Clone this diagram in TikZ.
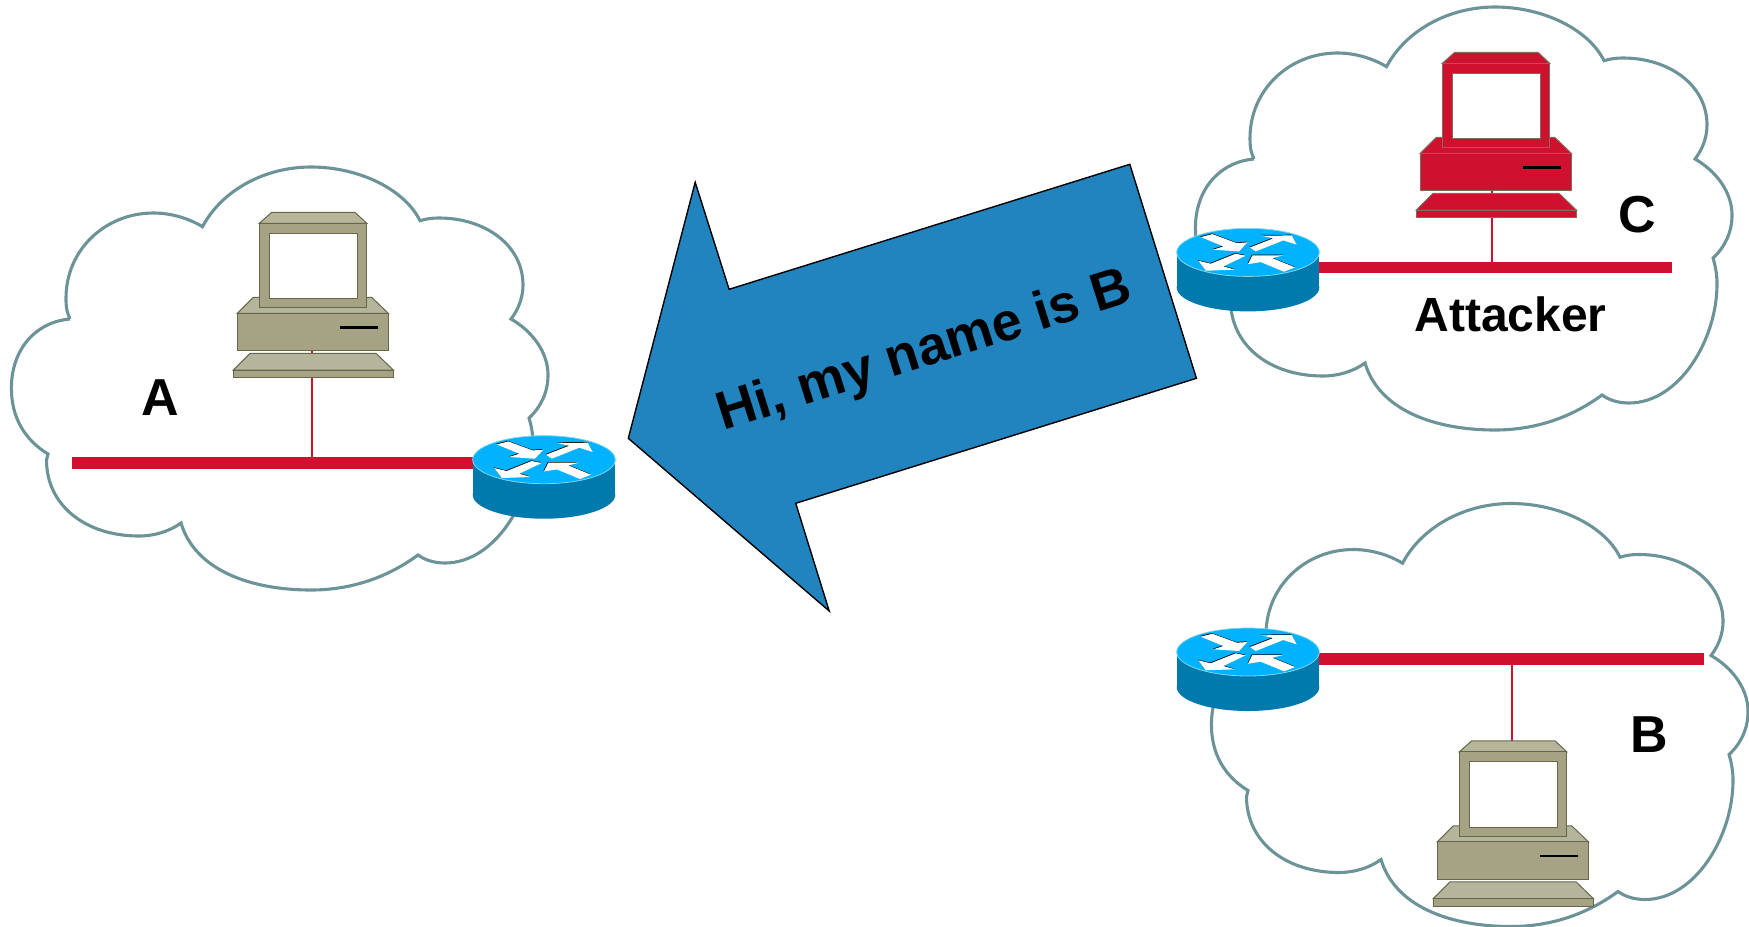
\documentclass[tikz,border=0pt]{standalone}
\usepackage{fontspec}
\setmainfont{Liberation Sans}
\definecolor{cloudline}{RGB}{108,147,152}
\definecolor{busred}{RGB}{207,16,46}
\definecolor{arrowblue}{RGB}{34,132,190}
\definecolor{routertop}{RGB}{0,178,255}
\definecolor{routerwall}{RGB}{0,121,172}
\definecolor{routerrim}{RGB}{130,215,240}
\definecolor{pcbody}{RGB}{165,163,132}
\definecolor{pclight}{RGB}{181,181,155}
\definecolor{pcedge}{RGB}{102,102,74}
\definecolor{attackedge}{RGB}{125,110,90}
\tikzset{
  x=.5pt,y=-.5pt,
  cloudstyle/.style={draw=cloudline,line width=1.55pt,line join=miter},
  busline/.style={busred,line width=5.7pt},
  tapline/.style={busred,line width=1.2pt},
  biglabel/.style={font=\bfseries\fontsize{26}{30}\selectfont,inner sep=0pt},
  msgfont/.style={font=\bfseries\fontsize{26.9}{30}\selectfont,inner sep=0pt},
  pics/netcloud/.style={code={
    \draw[cloudstyle] (70,319) .. controls (66,310) and (66,305) .. (66,298)
      .. controls (66,250) and (105,213) .. (153.5,213)
      .. controls (172,213) and (190,219) .. (202.5,226.7)
      .. controls (222,190) and (265,167) .. (311,167)
      .. controls (360,167) and (405,190) .. (420,220.7)
      .. controls (427,218.5) and (433,218) .. (439,218)
      .. controls (485,218) and (523,245) .. (523,285)
      .. controls (523,298) and (518,310) .. (511,319)
      .. controls (532,331) and (548,352) .. (548,375)
      .. controls (548,392) and (541,407) .. (529,418)
      .. controls (532,428) and (533,436) .. (533,444)
      .. controls (533,500) and (495,563) .. (445,563)
      .. controls (434,563) and (425,560) .. (418,555)
      .. controls (388,577) and (352,590) .. (311,590)
      .. controls (250,590) and (195,570) .. (181,523)
      .. controls (170,531) and (155,536) .. (139,536)
      .. controls (85,536) and (46.5,505) .. (46.5,460)
      -- (48,454)
      .. controls (25,440) and (11.4,418) .. (11.4,388)
      .. controls (11.4,350) and (35,322) .. (70,319);
  }},
  pics/computer/.style n args={3}{code={
    \begin{scope}[draw=#3,line width=.5pt,line join=miter]
      % keyboard
      \filldraw[fill=#2] (-63,53.3) -- (63,53.3) -- (80.3,70) -- (-79.7,70) -- cycle;
      \filldraw[fill=#1] (-79.7,70) rectangle (80.3,77.7);
      % base
      \filldraw[fill=#2] (-59.7,-2.7) -- (58.7,-2.7) -- (75.3,13.3) -- (-75.7,13.3) -- cycle;
      \filldraw[fill=#1] (-75.7,13.3) rectangle (75.3,50.7);
      \fill[black] (27,26) rectangle (65,28.6);
      % monitor
      \filldraw[fill=#2] (-41.3,-87.7) -- (42,-87.7) -- (53.7,-76.7) -- (-53.7,-76.7) -- cycle;
      \filldraw[fill=#1] (-53.7,-76.7) rectangle (53.7,7.7);
      \filldraw[fill=white] (-44,-66.7) rectangle (44.3,-1.3);
    \end{scope}
  }},
  pics/router/.style={code={
    \fill[routerwall] (-71.3,0) rectangle (71.3,35);
    \fill[routerwall] (0,35) ellipse [x radius=71.3,y radius=24];
    \filldraw[fill=routertop,draw=routerrim,line width=.4pt] (0,0) ellipse [x radius=71.3,y radius=24];
    \foreach \dx/\dy/\col in {-.5/-.7/black,0/0/white}{
      \begin{scope}[shift={(\dx,\dy)}]
        \fill[\col] (-47.3,-15.3) -- (-35.7,-18.3) -- (-11.3,-9.3) -- (-.7,-10) -- (-9,-1) -- (-34.7,-2.7) -- (-24.7,-6) -- cycle;
        \fill[\col] (2,-5) -- (25.3,-14) -- (13.3,-16.7) -- (43.7,-17) -- (48.7,-7.7) -- (35.3,-12) -- (7.7,-1) -- cycle;
        \fill[\col] (-12.3,1.3) -- (-2.3,3.3) -- (-24.7,14) -- (-13.3,17.3) -- (-42.3,18.3) -- (-49.7,8.3) -- (-37.3,11.3) -- cycle;
        \fill[\col] (0,11.7) -- (4.3,3) -- (35,3) -- (24.3,5.7) -- (47,15) -- (36,19.3) -- (12.7,9.7) -- cycle;
      \end{scope}
    }
  }}
}
\begin{document}
\begin{tikzpicture}
\useasboundingbox (0,0) rectangle (1749,926);
% clouds
\pic at (0,0) {netcloud};
\pic at (1184,-160) {netcloud};
\pic at (1200,336.5) {netcloud};
% anchors
\coordinate (routerA) at (544,459.7);
\coordinate (routerC) at (1248,252.4);
\coordinate (routerB) at (1248,652);
\coordinate (pcA) at (313,300);
\coordinate (pcC) at (1496,140);
\coordinate (pcB) at (1513,828.5);
\coordinate (busAend) at (72,463);
\coordinate (busCend) at (1672,267.5);
\coordinate (busBend) at (1704,659);
\coordinate (tapA) at (312,463);
\coordinate (tapC) at (1492,267.5);
\coordinate (tapB) at (1512,659);
% message arrow
\filldraw[fill=arrowblue,draw=black,line width=.7pt,line join=miter]
  (695.2,182.3) -- (729.1,289.3) -- (1129.8,164.3) -- (1196.4,378.3) -- (795.7,503.3) -- (829.2,611) -- (628.3,438.3) -- cycle;
\node[msgfont,rotate=17.5,anchor=base] (msg) at (928.9,366) {Hi, my name is B};
% connectors
\draw[busline] (busAend) -- (routerA |- busAend);
\draw[busline] (busCend) -- (routerC |- busCend);
\draw[busline] (busBend) -- (routerB |- busBend);
\draw[tapline] (tapA) -- (tapA |- pcA);
\draw[tapline] (tapC) -- (tapC |- pcC);
\draw[tapline] (tapB) -- (tapB |- pcB);
% equipment
\pic at (pcA) {computer={pcbody}{pclight}{pcedge}};
\pic at (pcC) {computer={busred}{busred}{attackedge}};
\pic at (pcB) {computer={pcbody}{pclight}{pcedge}};
\pic at (routerA) {router};
\pic at (routerC) {router};
\pic at (routerB) {router};
% labels
\node[biglabel] (labelA) at (160.7,398) {A};
\node[biglabel] (labelC) at (1637,215) {C};
\node[biglabel] (labelB) at (1649.3,734.3) {B};
\node[inner sep=0pt,anchor=base,font=\bfseries\fontsize{24}{28}\selectfont] (labelAtt) at (1510.6,331) {Attacker};
\end{tikzpicture}
\end{document}
